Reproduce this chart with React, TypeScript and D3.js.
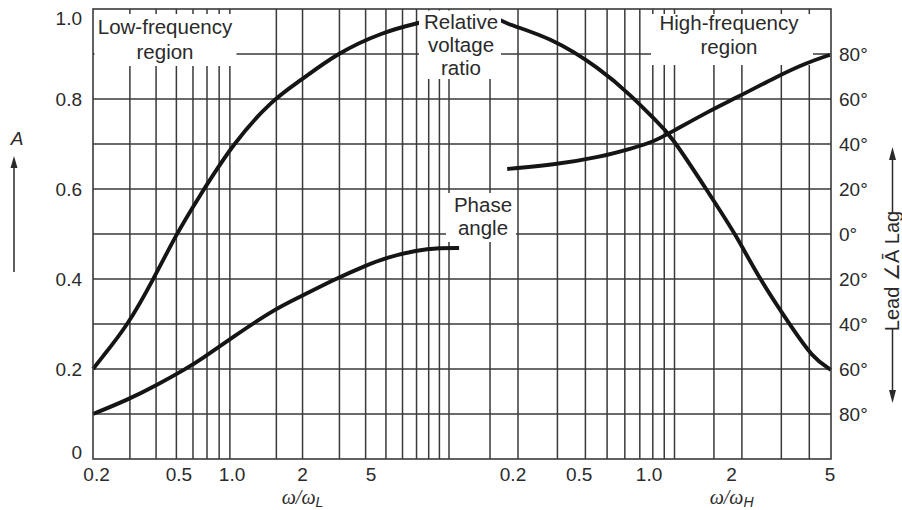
import React from "react";
import * as d3 from "d3";

// ---------- data ----------
// Horizontal grid (relative voltage ratio A)
const yGridValues = [0.1, 0.2, 0.3, 0.4, 0.5, 0.6, 0.7, 0.8, 0.9];
const yTickValues = [0, 0.2, 0.4, 0.6, 0.8, 1.0];
const yTickLabels = ["0", "0.2", "0.4", "0.6", "0.8", "1.0"];

// Right axis: phase angle (lag positive = up, lead negative = down)
const phaseTickValues = [80, 60, 40, 20, 0, -20, -40, -60, -80];

// Low-frequency (ω/ωL) log grid
const lowGridValues = [0.3, 0.4, 0.5, 0.6, 0.7, 0.8, 0.9, 1.5, 2, 3, 4, 5, 6, 7, 8, 9, 10];
const lowTickLabels = ["0.2", "0.5", "1.0", "2", "5"];
const lowTickAt = [0.208, 0.514, 0.922, 2.0, 4.24]; // where labels are drawn

// High-frequency (ω/ωH) log grid
const highGridValues = [0.15, 0.2, 0.3, 0.4, 0.5, 0.6, 0.7, 0.8, 0.9, 1.0, 1.5, 2, 3, 4];
const highTickLabels = ["0.2", "0.5", "1.0", "2", "5"];
const highTickAt = [0.19, 0.375, 0.77, 1.8, 4.95];

// Relative voltage ratio curve
const aLowFreq = [0.2, 0.216, 0.294, 0.387, 0.503, 0.627, 0.932, 1.446, 1.946, 2.92, 4.84, 7.12, 10, 12.6];
const aLowVal = [0.2, 0.22, 0.298, 0.398, 0.502, 0.575, 0.702, 0.8, 0.84, 0.902, 0.949, 0.969, 0.985, 0.99];
const aHighFreq = [0.15, 0.17, 0.278, 0.465, 0.652, 0.801, 0.954, 1.486, 1.861, 2.41, 3.28, 4.15, 5];
const aHighVal = [0.99, 0.969, 0.938, 0.868, 0.804, 0.758, 0.724, 0.576, 0.502, 0.398, 0.298, 0.224, 0.198];

// Phase angle curve (degrees, lag +, lead -)
const phLowFreq = [0.2, 0.291, 0.404, 0.562, 0.648, 0.931, 1.446, 1.946, 2.8, 4.06, 4.95, 7.04, 9.06, 11.17];
const phLowDeg = [-80, -73.8, -67.1, -59.6, -56, -45.8, -33.8, -28, -20.4, -13.8, -10.7, -7.1, -6.2, -6.2];
const phHighFreq = [0.179, 0.287, 0.465, 0.652, 0.801, 0.954, 1.454, 1.88, 2.84, 3.86, 4.94];
const phHighDeg = [28.9, 30.7, 34.2, 38.2, 40.9, 44.9, 55.1, 60.4, 69.8, 76, 79.6];

// ---------- layout ----------
const W = 902;
const H = 510;
const top = 9;
const bottom = 459;

const xL = d3.scaleLog().domain([0.2, 10]).range([93, 449]);
const xH = d3.scaleLog().domain([0.2, 5]).range([518, 831]);
const yA = d3.scaleLinear().domain([0, 1]).range([bottom, top]);
const yP = d3.scaleLinear().domain([-100, 100]).range([bottom, top]);

const left = xL(0.2);
const right = xH(5);

const FONT = "'Liberation Sans', Arial, Helvetica, sans-serif";
const SERIF = "'Liberation Serif', 'Times New Roman', serif";
const GRID = "#3a3a3a";
const INK = "#151515";
const TXT = "#2a2a2a";

function zip(xs: number[], ys: number[]) {
  return xs.map((x, i) => [x, ys[i]] as [number, number]);
}

export default function App() {
  const mk = (xs: d3.ScaleLogarithmic<number, number>, ys: d3.ScaleLinear<number, number>) =>
    d3
      .line<[number, number]>()
      .x((d) => xs(d[0]))
      .y((d) => ys(d[1]))
      .curve(d3.curveBasis);

  const lineLowA = mk(xL, yA);
  const lineHighA = mk(xH, yA);
  const lineLowP = mk(xL, yP);
  const lineHighP = mk(xH, yP);

  const labelStyle = { fontFamily: FONT, fontSize: 20.5, fill: TXT } as const;
  const tickStyle = { fontFamily: FONT, fontSize: 19, fill: TXT } as const;
  const omegaStyle = { fontFamily: SERIF, fontStyle: "italic", fontSize: 20, fill: TXT } as const;

  return (
    <svg
      width={W}
      height={H}
      viewBox={`0 0 ${W} ${H}`}
      style={{ position: "absolute", left: 0, top: 0, background: "#fff" }}
    >
      <rect x={0} y={0} width={W} height={H} fill="#fff" />

      {/* grid */}
      <g stroke={GRID} strokeWidth={1.5}>
        {yGridValues.map((v) => (
          <line key={"h" + v} x1={left} x2={right} y1={yA(v)} y2={yA(v)} />
        ))}
        {lowGridValues.map((v) => (
          <line key={"l" + v} x1={xL(v)} x2={xL(v)} y1={top} y2={bottom} />
        ))}
        {highGridValues.map((v) => (
          <line key={"r" + v} x1={xH(v)} x2={xH(v)} y1={top} y2={bottom} />
        ))}
      </g>

      {/* relative voltage ratio */}
      <g fill="none" stroke={INK} strokeWidth={3.9}>
        <path d={lineLowA(zip(aLowFreq, aLowVal)) || ""} />
        <path d={lineHighA(zip(aHighFreq, aHighVal)) || ""} />
      </g>

      {/* label masks */}
      <g fill="#fff">
        <rect x={94.5} y={14} width={142} height={52} />
        <rect x={419} y={10.5} width={82} height={68.5} />
        <rect x={446} y={193} width={70} height={49} />
        <rect x={651} y={14} width={162} height={51} />
      </g>

      {/* phase angle */}
      <g fill="none" stroke={INK} strokeWidth={3.9}>
        <path d={lineLowP(zip(phLowFreq, phLowDeg)) || ""} />
        <path d={lineHighP(zip(phHighFreq, phHighDeg)) || ""} />
      </g>

      {/* frame */}
      <rect x={left} y={top} width={right - left} height={bottom - top} fill="none" stroke={GRID} strokeWidth={1.6} />

      {/* region labels */}
      <g style={labelStyle} textAnchor="middle">
        <text x={165} y={34}>Low-frequency</text>
        <text x={165} y={59}>region</text>
        <text x={461} y={29}>Relative</text>
        <text x={461} y={52}>voltage</text>
        <text x={461} y={75}>ratio</text>
        <text x={483} y={212}>Phase</text>
        <text x={483} y={235}>angle</text>
        <text x={729} y={30}>High-frequency</text>
        <text x={729} y={54}>region</text>
      </g>

      {/* left axis ticks */}
      <g style={tickStyle} textAnchor="end">
        {yTickValues.map((v, i) => {
          const y = Math.min(Math.max(yA(v), top + 9), bottom - 7);
          return (
            <text key={"yt" + v} x={82} y={y} dy="0.36em">
              {yTickLabels[i]}
            </text>
          );
        })}
      </g>

      {/* right axis ticks */}
      <g style={tickStyle} textAnchor="start">
        {phaseTickValues.map((v) => (
          <text key={"pt" + v} x={839} y={yP(v)} dy="0.36em">
            {Math.abs(v) + "°"}
          </text>
        ))}
      </g>

      {/* bottom ticks */}
      <g style={tickStyle} textAnchor="middle">
        {lowTickLabels.map((t, i) => (
          <text key={"lt" + i} x={xL(lowTickAt[i])} y={481}>
            {t}
          </text>
        ))}
        {highTickLabels.map((t, i) => (
          <text key={"ht" + i} x={xH(highTickAt[i])} y={481}>
            {t}
          </text>
        ))}
      </g>

      {/* x titles */}
      <text x={xL(2)} y={504} textAnchor="middle" style={omegaStyle}>
        ω/ω
        <tspan dy={3} style={{ fontFamily: FONT, fontSize: 14 }}>L</tspan>
      </text>
      <text x={xH(1.8)} y={504} textAnchor="middle" style={omegaStyle}>
        ω/ω
        <tspan dy={3} style={{ fontFamily: FONT, fontSize: 14 }}>H</tspan>
      </text>

      {/* left axis title */}
      <text x={17} y={145} textAnchor="middle" style={{ fontFamily: FONT, fontStyle: "italic", fontSize: 19, fill: TXT }}>
        A
      </text>
      <g stroke={TXT} strokeWidth={1.5}>
        <line x1={14} x2={14} y1={272} y2={166} />
      </g>
      <path d="M14,156 L10.5,168 L17.5,168 Z" fill={TXT} />

      {/* right axis title */}
      <text
        transform="translate(899,271) rotate(-90)"
        textAnchor="middle"
        style={{ fontFamily: FONT, fontSize: 20, fill: TXT }}
      >
        Lead ∠Ā Lag
      </text>
      <g stroke={TXT} strokeWidth={1.5}>
        <line x1={892.5} x2={892.5} y1={213} y2={158} />
        <line x1={892.5} x2={892.5} y1={328} y2={392} />
      </g>
      <path d="M892.5,147 L889,160 L896,160 Z" fill={TXT} />
      <path d="M892.5,403 L889,390 L896,390 Z" fill={TXT} />
    </svg>
  );
}
